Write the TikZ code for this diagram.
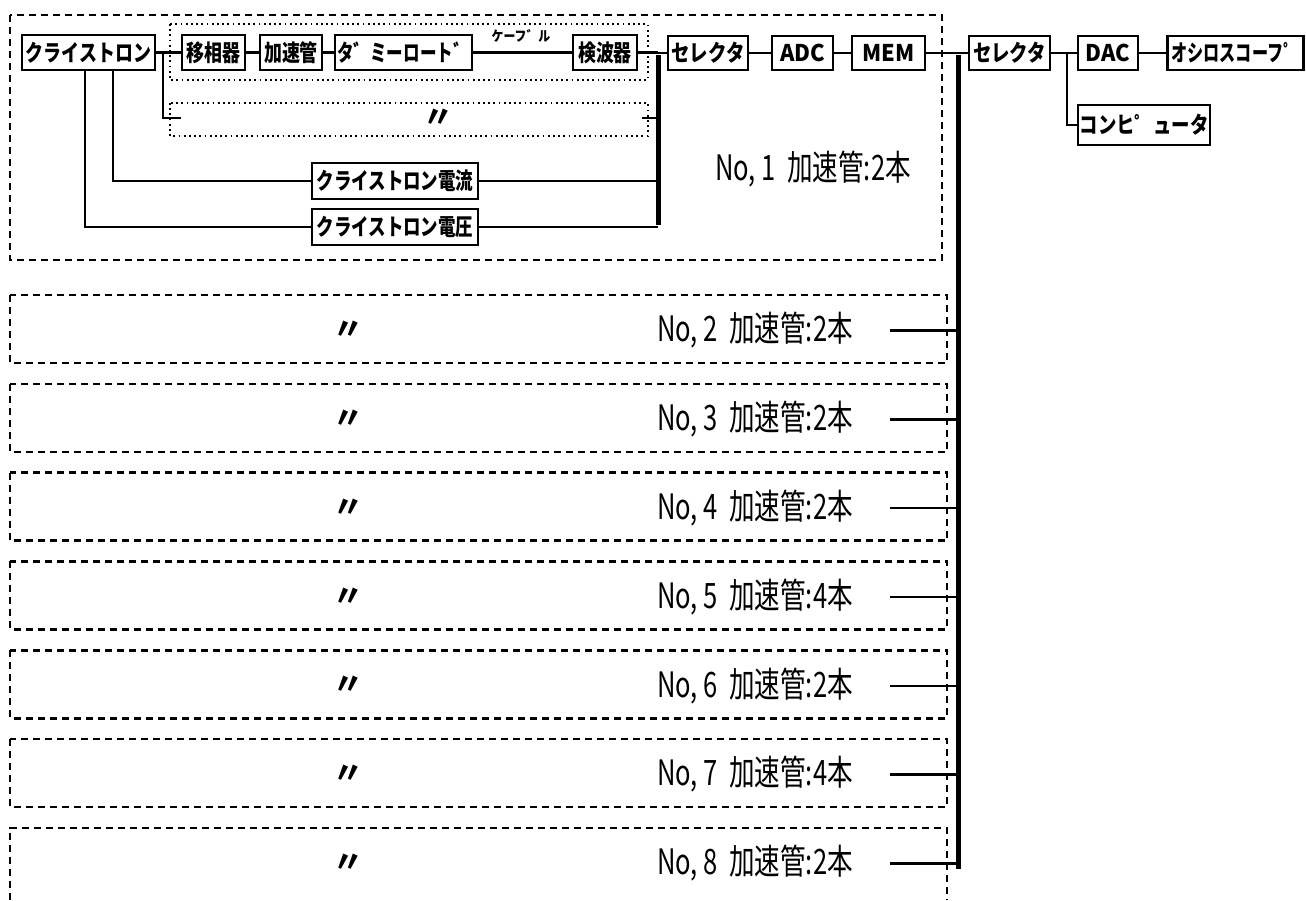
\documentclass[tikz,border=0pt]{standalone}
\usepackage{fontspec}
\setmainfont{Noto Sans CJK JP}
\usepackage{graphicx}
\newcommand{\bt}[2][0.78]{\scalebox{#1}[1]{#2}}
\newcommand{\boxfont}{\fontsize{23}{23}\selectfont\bfseries}
\newcommand{\labfont}{\fontsize{35}{35}\selectfont}
\tikzset{
  bx/.style={draw, line width=2.8pt, inner sep=0pt, font=\boxfont},
  ln/.style={line width=2.4pt},
  busline/.style={line width=5pt},
  dsh/.style={line width=2.6pt, dash pattern=on 7pt off 5pt},
  dotln/.style={line width=2.4pt, dash pattern=on 1.8pt off 3.4pt},
  lab/.style={font=\labfont, inner sep=0pt},
  ditto/.style={font=\fontsize{30}{30}\selectfont\bfseries, inner sep=0pt},
}
\begin{document}
\begin{tikzpicture}[x=1pt,y=-1pt]
\useasboundingbox (0,0) rectangle (1306,900);
% dashed group boxes
\draw[dsh] (10,15) rectangle (942,260);
\foreach \i in {2,...,7}{
  \pgfmathsetmacro{\t}{295+88.8*(\i-2)}
  \draw[dsh] (10,\t) rectangle (947,\t+68);
}
\draw[dsh] (10,900) -- (10,827.8) -- (947,827.8) -- (947,900);
% dotted boxes
\draw[dotln] (170,24) rectangle (648,80);
\draw[dotln] (170,103) rectangle (648,136);
% nodes top row
\node[bx, minimum width=133pt, minimum height=35pt] (kly) at (88.5,52.5) {\bt{クライストロン}};
\node[bx, minimum width=63pt, minimum height=35pt] (ps) at (213.5,52.5) {\bt{移相器}};
\node[bx, minimum width=62pt, minimum height=35pt] (acc) at (291,52.5) {\bt{加速管}};
\node[bx, minimum width=137pt, minimum height=35pt] (dum) at (403.5,52.5) {\bt[0.72]{タ゛ミーロート゛}};
\node[bx, minimum width=64pt, minimum height=35pt] (det) at (605,52.5) {\bt{検波器}};
\node[bx, minimum width=80pt, minimum height=34pt] (sel1) at (708,53) {\bt[0.8]{セレクタ}};
\node[bx, minimum width=61pt, minimum height=34pt] (adc) at (802.5,53) {\bt[0.95]{ADC}};
\node[bx, minimum width=73pt, minimum height=34pt] (mem) at (888.5,53) {\bt[0.95]{MEM}};
\node[bx, minimum width=81pt, minimum height=34pt] (sel2) at (1009.5,53) {\bt[0.8]{セレクタ}};
\node[bx, minimum width=60pt, minimum height=34pt] (dac) at (1108,53) {\bt[0.95]{DAC}};
\node[bx, minimum width=136pt, minimum height=34pt] (osc) at (1235.5,53) {\bt[0.7]{オシロスコーフ゜}};
\node[bx, minimum width=132pt, minimum height=40pt] (comp) at (1144,125) {\bt[0.8]{コンヒ゜ュータ}};
\node[bx, minimum width=166pt, minimum height=36pt] (cur) at (395,181) {\bt[0.76]{クライストロン電流}};
\node[bx, minimum width=166pt, minimum height=36pt] (vol) at (395,227) {\bt[0.76]{クライストロン電圧}};
% labels
\node[font=\fontsize{14}{14}\selectfont\bfseries, inner sep=0pt] (cable) at (521,36) {\bt[0.85]{ケーフ゛ル}};
\node[lab, anchor=west] (l1) at (715,169) {\bt[0.73]{No, 1\ \ 加速管:2本}};
\node[ditto] (d1) at (438,118) {〃};
% coordinates
\coordinate (j1) at (163,52.5);
\coordinate (j1b) at (163,118);
\coordinate (e1) at (181,118);
\coordinate (e2) at (642,118);
\coordinate (b1t) at (658,53);
\coordinate (b1b) at (658,227);
\coordinate (b1c) at (658,181);
\coordinate (b1d) at (658,118);
\coordinate (b2t) at (958,53);
\coordinate (b2b) at (958,869);
\coordinate (j2) at (1067,53);
\coordinate (kv) at (85,52.5);
\coordinate (kc) at (113,52.5);
% connectors
\draw[ln] (kly.east) -- (j1) -- (ps.west);
\draw[ln] (j1) -- (j1b) -- (e1);
\draw[ln] (ps) -- (acc);
\draw[ln] (acc) -- (dum);
\draw[ln] (dum) -- (det);
\draw[ln] (det.east) -- (b1t |- det.east);
\draw[ln] (e2) -- (b1d);
\draw[ln] (b1t) -- (sel1.west);
\draw[ln] (sel1) -- (adc);
\draw[ln] (adc) -- (mem);
\draw[ln] (mem.east) -- (b2t);
\draw[ln] (b2t) -- (sel2.west);
\draw[ln] (sel2.east) -- (dac.west);
\draw[ln] (j2) |- (comp.west);
\draw[ln] (dac) -- (osc);
\draw[ln] (kly.south -| kv) |- (vol.west);
\draw[ln] (kly.south -| kc) |- (cur.west);
\draw[ln] (cur.east) -- (b1c);
\draw[ln] (vol.east) -- (b1b);
\draw[busline] ([yshift=-2pt]b1t) -- ([yshift=2pt]b1b);
% lower groups
\foreach \i/\k in {2/2,3/2,4/2,5/4,6/2,7/4,8/2}{
  \pgfmathsetmacro{\c}{295+88.8*(\i-2)+35.5}
  \node[lab, anchor=west] (l\i) at (657,\c) {\bt[0.73]{No, \i\ \ 加速管:\k 本}};
  \node[ditto] (d\i) at (348,\c) {〃};
  \coordinate (s\i) at (890,\c);
  \coordinate (t\i) at (958,\c);
  \draw[ln] (s\i) -- (t\i);
}
\draw[busline] ([yshift=-2pt]b2t) -- (b2b);
\end{tikzpicture}
\end{document}
